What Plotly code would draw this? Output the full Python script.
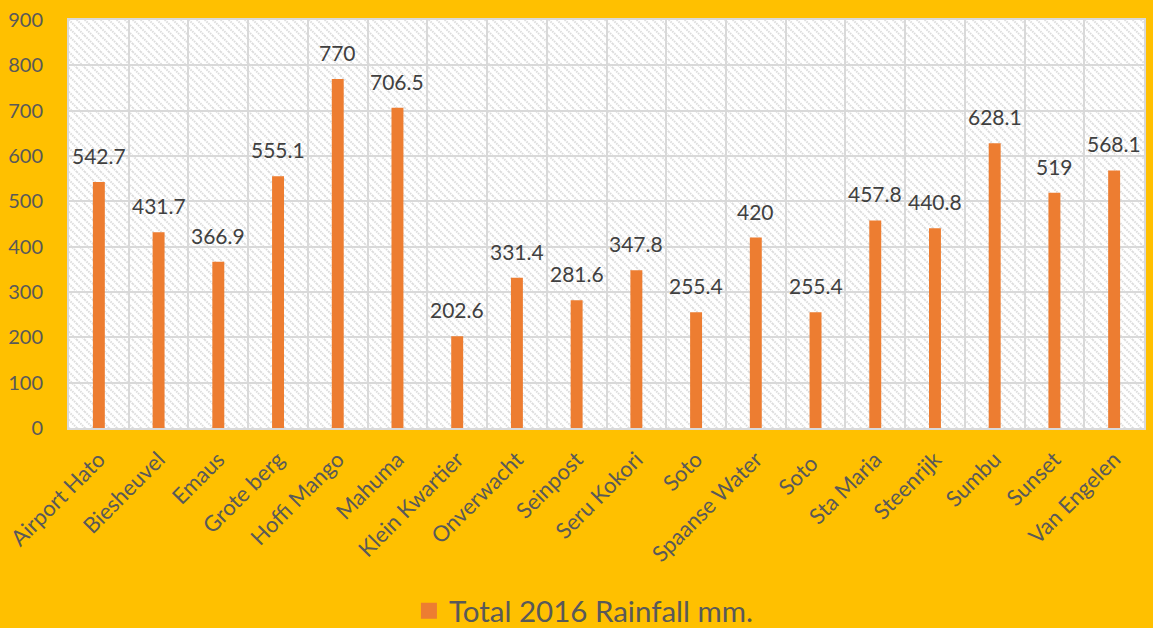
import base64
import plotly.graph_objects as go

stations = ["Airport Hato", "Biesheuvel", "Emaus", "Grote berg", "Hoffi Mango", "Mahuma",
            "Klein Kwartier", "Onverwacht", "Seinpost", "Seru Kokori", "Soto", "Spaanse Water",
            "Soto ", "Sta Maria", "Steenrijk", "Sumbu", "Sunset", "Van Engelen"]
rainfall = [542.7, 431.7, 366.9, 555.1, 770, 706.5, 202.6, 331.4, 281.6, 347.8, 255.4, 420,
            255.4, 457.8, 440.8, 628.1, 519, 568.1]
label_text = ["542.7", "431.7", "366.9", "555.1", "770", "706.5", "202.6", "331.4", "281.6",
              "347.8", "255.4", "420", "255.4", "457.8", "440.8", "628.1", "519", "568.1"]
series_name = "Total 2016 Rainfall mm."
y_ticks = [0, 100, 200, 300, 400, 500, 600, 700, 800, 900]

BG = "#FFC000"
BAR = "#ED7D31"
GRID = "#D9D9D9"
FONT = "Lato"

# hatch pattern for plot area background
svg = (
    '<svg xmlns="http://www.w3.org/2000/svg" width="1075" height="408">'
    '<defs><pattern id="h" width="8" height="8" patternUnits="userSpaceOnUse">'
    '<rect width="8" height="8" fill="#FFFFFF"/>'
    '<path d="M-2,-2 L10,10 M-2,6 L2,10 M6,-2 L10,2" stroke="#DCDCDC" stroke-width="2" stroke-dasharray="1.5,1"/>'
    '</pattern></defs><rect width="1075" height="408" fill="url(#h)"/></svg>'
)
svg_uri = "data:image/svg+xml;base64," + base64.b64encode(svg.encode()).decode()

fig = go.Figure()
fig.add_trace(go.Bar(
    x=stations, y=rainfall, name=series_name, marker_color=BAR, width=0.2,
    marker_line_width=0, showlegend=False,
))
# legend entry (filled square like the original)
fig.add_trace(go.Scatter(
    x=[None], y=[None], mode="markers", name=series_name,
    marker=dict(symbol="square", size=19, color=BAR), showlegend=True,
))

annotations = [
    dict(x=s, y=v, text=t, showarrow=False, xref="x", yref="y", yanchor="bottom",
         yshift=12, font=dict(family=FONT, size=21, color="#404040"))
    for s, v, t in zip(stations, rainfall, label_text)
]

fig.update_layout(
    width=1153, height=628,
    paper_bgcolor=BG, plot_bgcolor="#FFFFFF",
    margin=dict(l=69, r=9, t=20, b=200, autoexpand=False),
    font=dict(family=FONT, size=20, color="#595959"),
    bargap=0.8,
    annotations=annotations,
    images=[dict(source=svg_uri, xref="paper", yref="paper", x=0, y=1, sizex=1, sizey=1,
                 xanchor="left", yanchor="top", sizing="stretch", layer="below")],
    legend=dict(orientation="h", x=0.479, xanchor="center", y=-0.449, yanchor="middle",
                font=dict(family=FONT, size=29.5, color="#595959"), bgcolor="rgba(0,0,0,0)",
                itemsizing="trace"),
    xaxis=dict(tickangle=-45, tickson="boundaries", showgrid=True, gridcolor=GRID, gridwidth=2,
               showline=True, linecolor=GRID, linewidth=2, mirror=True, ticks="",
               tickfont=dict(family=FONT, size=22, color="#595959"), automargin=False,
               ticklabelstandoff=8),
    yaxis=dict(range=[0, 900], tickvals=y_ticks, showgrid=True, gridcolor=GRID, gridwidth=2,
               showline=True, linecolor=GRID, linewidth=2, mirror=True, ticks="",
               zeroline=False, tickfont=dict(family=FONT, size=20, color="#595959"),
               automargin=False, ticklabelstandoff=20),
)

fig.write_html("out.html", config={"displayModeBar": False})

# remove default page margin so the figure fills the window
with open("out.html", "r", encoding="utf-8") as f:
    html = f.read()
html = html.replace("<head>", "<head><style>html,body{margin:0;padding:0;overflow:hidden;}</style>", 1)
with open("out.html", "w", encoding="utf-8") as f:
    f.write(html)
